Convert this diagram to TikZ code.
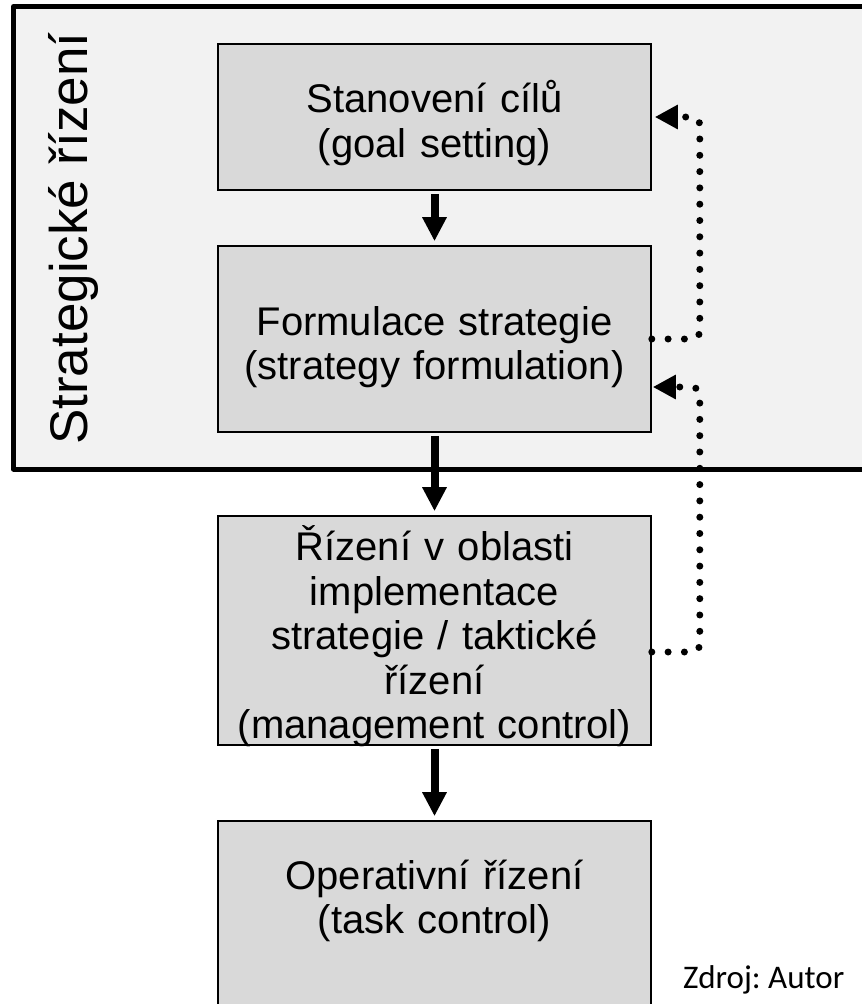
\documentclass[tikz,border=0pt]{standalone}
\usepackage{fontspec}
\setmainfont{Liberation Sans}
\newfontfamily\zdrojfont{Carlito}
\usetikzlibrary{arrows.meta}
\definecolor{framefill}{HTML}{F2F2F2}
\definecolor{boxfill}{HTML}{D9D9D9}
\frenchspacing
\begin{document}
\begin{tikzpicture}[x=1pt,y=-1pt,
  box/.style={draw=black, line width=1.6pt, fill=boxfill, minimum width=433pt,
    inner sep=0pt},
  boxtext/.style={inner sep=0pt, align=center, text width=433pt,
    font=\fontsize{40}{44.5}\selectfont},
  flow/.style={line width=8pt, -{Triangle[width=23pt,length=24pt]},
    shorten <=3pt, shorten >=4pt},
  dots/.style={line width=7pt, line cap=round, dash pattern=on 0pt off 16.3pt,
    rounded corners=8pt, -{Triangle[width=23pt,length=23pt]}}]
\useasboundingbox (0,0) rectangle (862,1004);
\clip (0,0) rectangle (862,1004);
% frame
\draw[line width=5pt, fill=framefill, line join=round] (13.5,6.5) rectangle (920,469);
\node[rotate=90, anchor=base west, inner sep=0pt, font=\fontsize{53}{60}\selectfont]
  (title) at (87,445) {Strategické řízení};
% boxes
\node[box, minimum height=146pt] (b1) at (434.5,117) {};
\node[box, minimum height=186pt] (b2) at (434.5,339) {};
\node[box, minimum height=229pt] (b3) at (434.5,630.5) {};
\node[box, minimum height=240pt] (b4) at (434.5,941) {};
\node[boxtext] (b1t) at (434.5,123) {Stanovení cílů\\(goal setting)};
\node[boxtext] (b2t) at (434.5,347) {Formulace strategie\\(strategy formulation)};
\node[boxtext] (b3t) at (434.5,636.5) {Řízení v oblasti\\implementace\\strategie / taktické\\řízení\\(management control)};
\node[boxtext] (b4t) at (434.5,901) {Operativní řízení\\(task control)};
% flow arrows
\draw[flow] (b1) -- (b2);
\draw[flow] (b2) -- (b3);
\draw[flow] (b3) -- (b4);
% feedback dotted
\draw[dots, shorten >=3pt] (b2.east) -- ++(48,0) |- (b1.east);
\draw[dots, shorten >=1pt] ([yshift=-21.5pt]b3.east) -- ++(48,0) |- ([yshift=-48pt]b2.east);
% source
\node[anchor=base west, inner sep=0pt, font=\zdrojfont\fontsize{33}{40}\selectfont]
  (src) at (683,988) {Zdroj: Autor};
\end{tikzpicture}
\end{document}
